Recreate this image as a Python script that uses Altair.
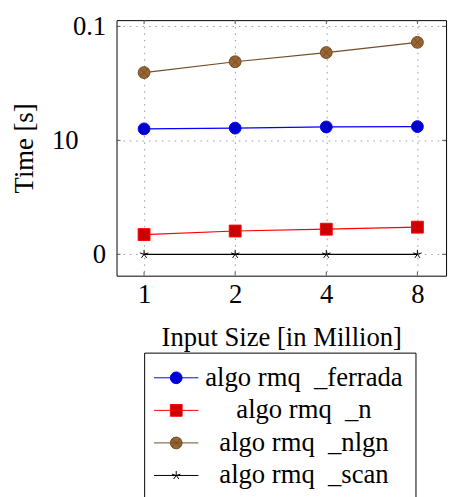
import altair as alt
import pandas as pd

# ---- data ----
input_sizes = [1, 2, 4, 8]
series_names = ["algo rmq \u00a0_ferrada", "algo rmq \u00a0_n", "algo rmq \u00a0_nlgn", "algo rmq \u00a0_scan"]
ferrada_times = [12.6, 12.8, 13.1, 13.2]
n_times = [1.49, 1.60, 1.66, 1.73]
nlgn_times = [39.3, 48.9, 58.9, 72.4]
scan_times = [1.0, 1.0, 1.0, 1.0]

x_tick_values = [1, 2, 4, 8]
y_tick_values = [1, 10, 100]
y_tick_labels = ["0", "10", "0.1"]

line_colors = ["#0000ff", "#ff0000", "#734d26", "#000000"]
marker_fills = ["#0000cc", "#cc0000", "#996633", "transparent"]
marker_strokes = ["#0000ff", "#ff0000", "#734d26", "#000000"]

circle_p = "M1,0A1,1 0 1,1 -1,0A1,1 0 1,1 1,0Z"
otimes_p = circle_p + "M-0.7,-0.7L0.7,0.7M-0.7,0.7L0.7,-0.7"
star_p = "M0,0L0,-0.75M0,0L0.71,-0.23M0,0L0.44,0.61M0,0L-0.44,0.61M0,0L-0.71,-0.23"
plot_shapes = ["circle", "square", otimes_p, star_p]

lc = "M0.53,0A0.53,0.53 0 1,1 -0.53,0A0.53,0.53 0 1,1 0.53,0Z"
legend_shapes = [
    "M-2,0L2,0" + lc,
    "M-2,0L2,0M-0.53,-0.53L0.53,-0.53L0.53,0.53L-0.53,0.53Z",
    "M-2,0L2,0" + lc + "M-0.37,-0.37L0.37,0.37M-0.37,0.37L0.37,-0.37",
    "M-2,0L2,0M0,0L0,-0.4M0,0L0.38,-0.12M0,0L0.24,0.32M0,0L-0.24,0.32M0,0L-0.38,-0.12",
]

rows = []
for name, vals in zip(series_names, [ferrada_times, n_times, nlgn_times, scan_times]):
    for s, v in zip(input_sizes, vals):
        rows.append({"series": name, "input": s, "time": v})
df = pd.DataFrame(rows)

W, H = 334, 259
FONT = "Liberation Serif, Times New Roman, serif"
FS = 27

def arr(lst):
    return "[" + ",".join("'" + x + "'" for x in lst) + "]"

def pick(lst):
    return f"{arr(lst)}[indexof({arr(series_names)}, datum.value)]"

ylabel_expr = " : ".join(
    f"datum.value == {v} ? '{l}'" for v, l in zip(y_tick_values, y_tick_labels)
) + " : ''"

xscale = alt.Scale(type="log", base=2, domain=[0.811, 9.95], nice=False)
yscale = alt.Scale(type="log", domain=[0.649, 113.4], nice=False)

xaxis = alt.Axis(values=x_tick_values, format="d", title="Input Size [in Million]",
                 grid=True, gridDash=[1.5, 5], gridColor="#999999", domain=False, ticks=False,
                 labelPadding=6, titleY=71, titleBaseline="alphabetic")
yaxis = alt.Axis(values=y_tick_values, labelExpr=ylabel_expr, title="Time [s]",
                 grid=True, gridDash=[1.5, 5], gridColor="#999999", domain=False, ticks=False,
                 labelPadding={"condition": {"test": "datum.value == 10", "value": 39}, "value": 11},
                 titleX=-85, titleY=H / 2, titleBaseline="alphabetic",
                 titleAngle=270, titleAlign="center")

legend = alt.Legend(
    title=None, orient="none", legendX=28, legendY=337, direction="vertical",
    strokeColor="black", fillColor="white", padding=12, cornerRadius=0,
    symbolSize=506, symbolOffset=7, labelAlign="center", labelOffset=116,
    rowPadding=5, labelFont=FONT, labelFontSize=FS, labelColor="black", labelLimit=500,
    symbolType=alt.ExprRef(pick(legend_shapes)),
    symbolFillColor=alt.ExprRef(pick(marker_fills)),
    symbolStrokeColor=alt.ExprRef(pick(marker_strokes)),
    symbolStrokeWidth=1, symbolOpacity=1,
)

lines = alt.Chart(df).mark_line(strokeWidth=1.2).encode(
    x=alt.X("input:Q", scale=xscale, axis=xaxis),
    y=alt.Y("time:Q", scale=yscale, axis=yaxis),
    color=alt.Color("series:N", scale=alt.Scale(domain=series_names, range=line_colors), legend=legend),
)

points = alt.Chart(df).mark_point(filled=True, size=144, strokeWidth=1, opacity=1).encode(
    x=alt.X("input:Q", scale=xscale, axis=xaxis),
    y=alt.Y("time:Q", scale=yscale, axis=yaxis),
    fill=alt.Fill("series:N", scale=alt.Scale(domain=series_names, range=marker_fills), legend=None),
    stroke=alt.Stroke("series:N", scale=alt.Scale(domain=series_names, range=marker_strokes), legend=None),
    shape=alt.Shape("series:N", scale=alt.Scale(domain=series_names, range=plot_shapes), legend=None),
)

xt = pd.DataFrame({"v": x_tick_values})
yt = pd.DataFrame({"v": y_tick_values})
tick_col = "#555555"
xt_bot = alt.Chart(xt).mark_rule(color=tick_col, strokeWidth=1).encode(
    x=alt.X("v:Q", scale=xscale, axis=xaxis), y=alt.value(H - 4), y2=alt.value(H))
xt_top = alt.Chart(xt).mark_rule(color=tick_col, strokeWidth=1).encode(
    x=alt.X("v:Q", scale=xscale, axis=xaxis), y=alt.value(0), y2=alt.value(4))
yt_left = alt.Chart(yt).mark_rule(color=tick_col, strokeWidth=1).encode(
    y=alt.Y("v:Q", scale=yscale, axis=yaxis), x=alt.value(0), x2=alt.value(4))
yt_right = alt.Chart(yt).mark_rule(color=tick_col, strokeWidth=1).encode(
    y=alt.Y("v:Q", scale=yscale, axis=yaxis), x=alt.value(W - 4), x2=alt.value(W))

chart = alt.layer(lines, xt_bot, xt_top, yt_left, yt_right, points).resolve_scale(
    fill="independent", stroke="independent", shape="independent"
).properties(
    width=W, height=H,
    autosize=alt.AutoSizeParams(type="none"),
    padding={"left": 110, "top": 9, "right": 5, "bottom": 221},
).configure(font=FONT).configure_view(stroke="black", strokeWidth=1).configure_axis(
    labelFont=FONT, labelFontSize=FS, labelColor="black",
    titleFont=FONT, titleFontSize=FS, titleColor="black", titleFontWeight="normal",
)

chart.save("out.html", embed_options={"renderer": "svg", "actions": False})
